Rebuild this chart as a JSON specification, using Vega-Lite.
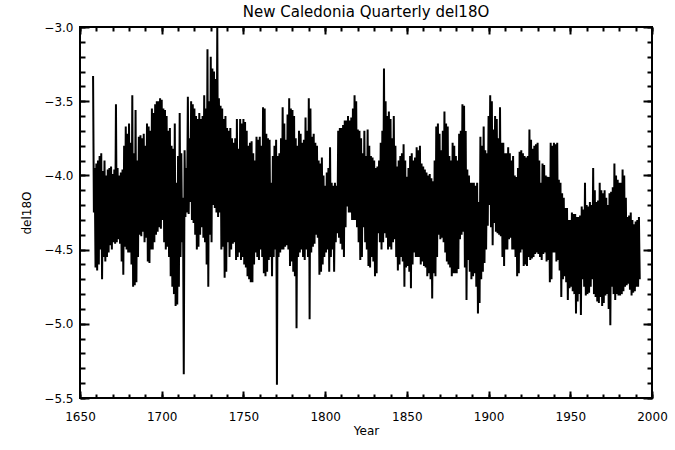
{
"$schema": "https://vega.github.io/schema/vega-lite/v6.json",
"width": 572, "height": 371,
"autosize": {"type": "none"},
"padding": {"left": 80, "top": 27, "right": 23, "bottom": 52},
"background": "white",
"config": {
  "view": {"stroke": "black", "strokeWidth": 2},
  "font": "DejaVu Sans",
  "axis": {"grid": false, "domain": false, "labelFont": "DejaVu Sans", "labelFontSize": 12, "labelColor": "black", "tickColor": "black", "tickWidth": 2, "titleFont": "DejaVu Sans", "titleFontSize": 12, "titleFontWeight": "normal", "titleColor": "black"}
},
"title": {"text": "New Caledonia Quarterly del18O", "fontSize": 15, "fontWeight": "normal", "font": "DejaVu Sans", "color": "black", "anchor": "middle", "offset": 1},
"data": {"values": [
{"t":1658,"v":-3.33},{"t":1658.5,"v":-4.25},{"t":1659,"v":-3.95},{"t":1659.5,"v":-4.62},{"t":1660,"v":-3.92},{"t":1660.5,"v":-4.64},{"t":1661,"v":-3.90},{"t":1661.5,"v":-4.60},{"t":1662,"v":-3.87},{"t":1662.5,"v":-4.50},{"t":1663,"v":-3.85},{"t":1663.5,"v":-4.70},{"t":1664,"v":-3.97},{"t":1664.5,"v":-4.55},{"t":1665,"v":-3.90},{"t":1665.5,"v":-4.58},{"t":1666,"v":-4.00},{"t":1666.5,"v":-4.55},{"t":1667,"v":-3.96},{"t":1667.5,"v":-4.52},{"t":1668,"v":-3.95},{"t":1668.5,"v":-4.47},{"t":1669,"v":-3.94},{"t":1669.5,"v":-4.50},
{"t":1670,"v":-3.99},{"t":1670.5,"v":-4.45},{"t":1671,"v":-3.96},{"t":1671.5,"v":-4.46},{"t":1672,"v":-3.52},{"t":1672.5,"v":-4.45},{"t":1673,"v":-3.95},{"t":1673.5,"v":-4.43},{"t":1674,"v":-4.00},{"t":1674.5,"v":-4.46},{"t":1675,"v":-3.98},{"t":1675.5,"v":-4.58},{"t":1676,"v":-3.96},{"t":1676.5,"v":-4.67},{"t":1677,"v":-3.80},{"t":1677.5,"v":-4.48},{"t":1678,"v":-3.67},{"t":1678.5,"v":-4.50},{"t":1679,"v":-3.72},{"t":1679.5,"v":-4.52},
{"t":1680,"v":-3.65},{"t":1680.5,"v":-4.52},{"t":1681,"v":-3.78},{"t":1681.5,"v":-4.60},{"t":1682,"v":-3.46},{"t":1682.5,"v":-4.75},{"t":1683,"v":-3.85},{"t":1683.5,"v":-4.74},{"t":1684,"v":-3.56},{"t":1684.5,"v":-4.72},{"t":1685,"v":-3.90},{"t":1685.5,"v":-4.55},{"t":1686,"v":-3.74},{"t":1686.5,"v":-4.40},{"t":1687,"v":-3.73},{"t":1687.5,"v":-4.41},{"t":1688,"v":-3.75},{"t":1688.5,"v":-4.38},{"t":1689,"v":-3.72},{"t":1689.5,"v":-4.45},
{"t":1690,"v":-3.80},{"t":1690.5,"v":-4.42},{"t":1691,"v":-3.65},{"t":1691.5,"v":-4.58},{"t":1692,"v":-3.67},{"t":1692.5,"v":-4.59},{"t":1693,"v":-3.70},{"t":1693.5,"v":-4.50},{"t":1694,"v":-3.55},{"t":1694.5,"v":-4.50},{"t":1695,"v":-3.58},{"t":1695.5,"v":-4.45},{"t":1696,"v":-3.52},{"t":1696.5,"v":-4.40},{"t":1697,"v":-3.50},{"t":1697.5,"v":-4.38},{"t":1698,"v":-3.50},{"t":1698.5,"v":-4.35},{"t":1699,"v":-3.48},{"t":1699.5,"v":-4.36},
{"t":1700,"v":-3.49},{"t":1700.5,"v":-4.30},{"t":1701,"v":-3.55},{"t":1701.5,"v":-4.45},{"t":1702,"v":-3.56},{"t":1702.5,"v":-4.50},{"t":1703,"v":-3.60},{"t":1703.5,"v":-4.48},{"t":1704,"v":-3.70},{"t":1704.5,"v":-4.55},{"t":1705,"v":-3.68},{"t":1705.5,"v":-4.68},{"t":1706,"v":-3.80},{"t":1706.5,"v":-4.75},{"t":1707,"v":-3.82},{"t":1707.5,"v":-4.80},{"t":1708,"v":-3.65},{"t":1708.5,"v":-4.88},{"t":1709,"v":-4.05},{"t":1709.5,"v":-4.87},
{"t":1710,"v":-3.87},{"t":1710.5,"v":-4.75},{"t":1711,"v":-3.58},{"t":1711.5,"v":-4.55},{"t":1712,"v":-3.85},{"t":1712.5,"v":-4.45},{"t":1713,"v":-4.15},{"t":1713.5,"v":-5.34},{"t":1714,"v":-3.83},{"t":1714.5,"v":-4.28},{"t":1715,"v":-3.95},{"t":1715.5,"v":-4.25},{"t":1716,"v":-3.47},{"t":1716.5,"v":-4.26},{"t":1717,"v":-3.75},{"t":1717.5,"v":-4.18},{"t":1718,"v":-3.50},{"t":1718.5,"v":-4.30},{"t":1719,"v":-3.52},{"t":1719.5,"v":-4.32},
{"t":1720,"v":-3.55},{"t":1720.5,"v":-4.40},{"t":1721,"v":-3.60},{"t":1721.5,"v":-4.50},{"t":1722,"v":-3.62},{"t":1722.5,"v":-4.48},{"t":1723,"v":-3.58},{"t":1723.5,"v":-4.40},{"t":1724,"v":-3.62},{"t":1724.5,"v":-4.35},{"t":1725,"v":-3.60},{"t":1725.5,"v":-4.42},{"t":1726,"v":-3.46},{"t":1726.5,"v":-4.45},{"t":1727,"v":-3.55},{"t":1727.5,"v":-4.60},{"t":1728,"v":-3.15},{"t":1728.5,"v":-4.75},{"t":1729,"v":-3.50},{"t":1729.5,"v":-4.40},
{"t":1730,"v":-3.20},{"t":1730.5,"v":-4.45},{"t":1731,"v":-3.28},{"t":1731.5,"v":-4.20},{"t":1732,"v":-3.30},{"t":1732.5,"v":-4.22},{"t":1733,"v":-3.35},{"t":1733.5,"v":-4.25},{"t":1734,"v":-3.00},{"t":1734.5,"v":-4.28},{"t":1735,"v":-3.48},{"t":1735.5,"v":-4.25},{"t":1736,"v":-3.53},{"t":1736.5,"v":-4.50},{"t":1737,"v":-3.55},{"t":1737.5,"v":-4.48},{"t":1738,"v":-3.62},{"t":1738.5,"v":-4.69},{"t":1739,"v":-3.60},{"t":1739.5,"v":-4.65},
{"t":1740,"v":-3.68},{"t":1740.5,"v":-4.45},{"t":1741,"v":-3.70},{"t":1741.5,"v":-4.55},{"t":1742,"v":-3.68},{"t":1742.5,"v":-4.50},{"t":1743,"v":-3.75},{"t":1743.5,"v":-4.46},{"t":1744,"v":-3.78},{"t":1744.5,"v":-4.45},{"t":1745,"v":-3.75},{"t":1745.5,"v":-4.57},{"t":1746,"v":-3.62},{"t":1746.5,"v":-4.55},{"t":1747,"v":-3.82},{"t":1747.5,"v":-4.52},{"t":1748,"v":-3.62},{"t":1748.5,"v":-4.57},{"t":1749,"v":-3.65},{"t":1749.5,"v":-4.55},
{"t":1750,"v":-3.62},{"t":1750.5,"v":-4.60},{"t":1751,"v":-3.64},{"t":1751.5,"v":-4.62},{"t":1752,"v":-3.70},{"t":1752.5,"v":-4.68},{"t":1753,"v":-3.80},{"t":1753.5,"v":-4.70},{"t":1754,"v":-3.78},{"t":1754.5,"v":-4.72},{"t":1755,"v":-3.77},{"t":1755.5,"v":-4.72},{"t":1756,"v":-3.85},{"t":1756.5,"v":-4.60},{"t":1757,"v":-3.90},{"t":1757.5,"v":-4.52},{"t":1758,"v":-3.74},{"t":1758.5,"v":-4.55},{"t":1759,"v":-3.76},{"t":1759.5,"v":-4.57},
{"t":1760,"v":-3.74},{"t":1760.5,"v":-4.50},{"t":1761,"v":-3.80},{"t":1761.5,"v":-4.55},{"t":1762,"v":-3.54},{"t":1762.5,"v":-4.66},{"t":1763,"v":-3.55},{"t":1763.5,"v":-4.68},{"t":1764,"v":-3.72},{"t":1764.5,"v":-4.65},{"t":1765,"v":-3.75},{"t":1765.5,"v":-4.57},{"t":1766,"v":-3.76},{"t":1766.5,"v":-4.55},{"t":1767,"v":-4.05},{"t":1767.5,"v":-4.68},{"t":1768,"v":-3.87},{"t":1768.5,"v":-4.55},{"t":1769,"v":-3.80},{"t":1769.5,"v":-4.50},
{"t":1770,"v":-3.76},{"t":1770.5,"v":-5.41},{"t":1771,"v":-3.87},{"t":1771.5,"v":-4.55},{"t":1772,"v":-3.85},{"t":1772.5,"v":-4.52},{"t":1773,"v":-3.75},{"t":1773.5,"v":-4.50},{"t":1774,"v":-3.54},{"t":1774.5,"v":-4.50},{"t":1775,"v":-3.65},{"t":1775.5,"v":-4.48},{"t":1776,"v":-3.76},{"t":1776.5,"v":-4.47},{"t":1777,"v":-3.59},{"t":1777.5,"v":-4.50},{"t":1778,"v":-3.48},{"t":1778.5,"v":-4.61},{"t":1779,"v":-3.55},{"t":1779.5,"v":-4.58},
{"t":1780,"v":-3.56},{"t":1780.5,"v":-4.65},{"t":1781,"v":-3.60},{"t":1781.5,"v":-4.68},{"t":1782,"v":-3.75},{"t":1782.5,"v":-5.03},{"t":1783,"v":-3.80},{"t":1783.5,"v":-4.55},{"t":1784,"v":-3.70},{"t":1784.5,"v":-4.52},{"t":1785,"v":-3.72},{"t":1785.5,"v":-4.50},{"t":1786,"v":-3.78},{"t":1786.5,"v":-4.55},{"t":1787,"v":-3.76},{"t":1787.5,"v":-4.57},{"t":1788,"v":-3.61},{"t":1788.5,"v":-4.50},{"t":1789,"v":-3.70},{"t":1789.5,"v":-4.55},
{"t":1790,"v":-3.48},{"t":1790.5,"v":-4.97},{"t":1791,"v":-3.55},{"t":1791.5,"v":-4.52},{"t":1792,"v":-3.74},{"t":1792.5,"v":-4.48},{"t":1793,"v":-3.72},{"t":1793.5,"v":-4.46},{"t":1794,"v":-3.78},{"t":1794.5,"v":-4.40},{"t":1795,"v":-3.80},{"t":1795.5,"v":-4.42},{"t":1796,"v":-3.90},{"t":1796.5,"v":-4.67},{"t":1797,"v":-3.92},{"t":1797.5,"v":-4.65},{"t":1798,"v":-3.88},{"t":1798.5,"v":-4.60},{"t":1799,"v":-4.00},{"t":1799.5,"v":-4.55},
{"t":1800,"v":-4.07},{"t":1800.5,"v":-4.52},{"t":1801,"v":-3.98},{"t":1801.5,"v":-4.50},{"t":1802,"v":-3.95},{"t":1802.5,"v":-4.65},{"t":1803,"v":-3.81},{"t":1803.5,"v":-4.55},{"t":1804,"v":-4.05},{"t":1804.5,"v":-4.50},{"t":1805,"v":-4.07},{"t":1805.5,"v":-4.65},{"t":1806,"v":-4.05},{"t":1806.5,"v":-4.45},{"t":1807,"v":-4.07},{"t":1807.5,"v":-4.39},{"t":1808,"v":-3.70},{"t":1808.5,"v":-4.42},{"t":1809,"v":-3.68},{"t":1809.5,"v":-4.46},
{"t":1810,"v":-3.68},{"t":1810.5,"v":-4.50},{"t":1811,"v":-3.66},{"t":1811.5,"v":-4.55},{"t":1812,"v":-3.63},{"t":1812.5,"v":-4.35},{"t":1813,"v":-3.63},{"t":1813.5,"v":-4.21},{"t":1814,"v":-3.60},{"t":1814.5,"v":-4.25},{"t":1815,"v":-3.63},{"t":1815.5,"v":-4.25},{"t":1816,"v":-3.61},{"t":1816.5,"v":-4.30},{"t":1817,"v":-3.55},{"t":1817.5,"v":-4.30},{"t":1818,"v":-3.46},{"t":1818.5,"v":-4.30},{"t":1819,"v":-3.50},{"t":1819.5,"v":-4.35},
{"t":1820,"v":-3.69},{"t":1820.5,"v":-4.45},{"t":1821,"v":-3.70},{"t":1821.5,"v":-4.57},{"t":1822,"v":-3.75},{"t":1822.5,"v":-4.55},{"t":1823,"v":-3.85},{"t":1823.5,"v":-4.35},{"t":1824,"v":-3.70},{"t":1824.5,"v":-4.45},{"t":1825,"v":-3.87},{"t":1825.5,"v":-4.50},{"t":1826,"v":-3.69},{"t":1826.5,"v":-4.61},{"t":1827,"v":-3.80},{"t":1827.5,"v":-4.62},{"t":1828,"v":-3.87},{"t":1828.5,"v":-4.55},{"t":1829,"v":-3.88},{"t":1829.5,"v":-4.58},
{"t":1830,"v":-3.90},{"t":1830.5,"v":-4.68},{"t":1831,"v":-3.95},{"t":1831.5,"v":-4.66},{"t":1832,"v":-3.94},{"t":1832.5,"v":-4.39},{"t":1833,"v":-3.90},{"t":1833.5,"v":-4.45},{"t":1834,"v":-3.78},{"t":1834.5,"v":-4.50},{"t":1835,"v":-3.70},{"t":1835.5,"v":-4.45},{"t":1836,"v":-3.28},{"t":1836.5,"v":-4.39},{"t":1837,"v":-3.50},{"t":1837.5,"v":-4.42},{"t":1838,"v":-3.60},{"t":1838.5,"v":-4.50},{"t":1839,"v":-3.57},{"t":1839.5,"v":-4.48},
{"t":1840,"v":-3.62},{"t":1840.5,"v":-4.50},{"t":1841,"v":-3.75},{"t":1841.5,"v":-4.45},{"t":1842,"v":-3.60},{"t":1842.5,"v":-4.43},{"t":1843,"v":-3.80},{"t":1843.5,"v":-4.55},{"t":1844,"v":-3.94},{"t":1844.5,"v":-4.64},{"t":1845,"v":-3.90},{"t":1845.5,"v":-4.60},{"t":1846,"v":-3.87},{"t":1846.5,"v":-4.55},{"t":1847,"v":-3.85},{"t":1847.5,"v":-4.58},{"t":1848,"v":-3.79},{"t":1848.5,"v":-4.75},{"t":1849,"v":-3.90},{"t":1849.5,"v":-4.62},
{"t":1850,"v":-4.01},{"t":1850.5,"v":-4.61},{"t":1851,"v":-3.95},{"t":1851.5,"v":-4.65},{"t":1852,"v":-3.87},{"t":1852.5,"v":-4.76},{"t":1853,"v":-3.85},{"t":1853.5,"v":-4.60},{"t":1854,"v":-3.90},{"t":1854.5,"v":-4.52},{"t":1855,"v":-3.88},{"t":1855.5,"v":-4.55},{"t":1856,"v":-3.81},{"t":1856.5,"v":-4.55},{"t":1857,"v":-3.83},{"t":1857.5,"v":-4.55},{"t":1858,"v":-3.80},{"t":1858.5,"v":-4.60},{"t":1859,"v":-3.92},{"t":1859.5,"v":-4.58},
{"t":1860,"v":-3.94},{"t":1860.5,"v":-4.61},{"t":1861,"v":-3.96},{"t":1861.5,"v":-4.62},{"t":1862,"v":-3.98},{"t":1862.5,"v":-4.68},{"t":1863,"v":-4.00},{"t":1863.5,"v":-4.66},{"t":1864,"v":-3.99},{"t":1864.5,"v":-4.70},{"t":1865,"v":-4.02},{"t":1865.5,"v":-4.83},{"t":1866,"v":-4.04},{"t":1866.5,"v":-4.66},{"t":1867,"v":-3.90},{"t":1867.5,"v":-4.68},{"t":1868,"v":-3.67},{"t":1868.5,"v":-4.55},{"t":1869,"v":-3.65},{"t":1869.5,"v":-4.40},
{"t":1870,"v":-3.72},{"t":1870.5,"v":-4.43},{"t":1871,"v":-3.83},{"t":1871.5,"v":-4.42},{"t":1872,"v":-3.70},{"t":1872.5,"v":-4.45},{"t":1873,"v":-3.57},{"t":1873.5,"v":-4.52},{"t":1874,"v":-3.65},{"t":1874.5,"v":-4.58},{"t":1875,"v":-3.67},{"t":1875.5,"v":-4.60},{"t":1876,"v":-3.87},{"t":1876.5,"v":-4.62},{"t":1877,"v":-3.90},{"t":1877.5,"v":-4.68},{"t":1878,"v":-3.78},{"t":1878.5,"v":-4.66},{"t":1879,"v":-3.80},{"t":1879.5,"v":-4.66},
{"t":1880,"v":-3.87},{"t":1880.5,"v":-4.66},{"t":1881,"v":-3.90},{"t":1881.5,"v":-4.63},{"t":1882,"v":-3.72},{"t":1882.5,"v":-4.43},{"t":1883,"v":-3.70},{"t":1883.5,"v":-4.40},{"t":1884,"v":-3.52},{"t":1884.5,"v":-4.38},{"t":1885,"v":-3.53},{"t":1885.5,"v":-4.62},{"t":1886,"v":-3.70},{"t":1886.5,"v":-4.84},{"t":1887,"v":-3.96},{"t":1887.5,"v":-4.57},{"t":1888,"v":-4.00},{"t":1888.5,"v":-4.65},{"t":1889,"v":-4.05},{"t":1889.5,"v":-4.70},
{"t":1890,"v":-4.05},{"t":1890.5,"v":-4.68},{"t":1891,"v":-4.05},{"t":1891.5,"v":-4.66},{"t":1892,"v":-4.07},{"t":1892.5,"v":-4.75},{"t":1893,"v":-4.05},{"t":1893.5,"v":-4.93},{"t":1894,"v":-4.18},{"t":1894.5,"v":-4.86},{"t":1895,"v":-3.74},{"t":1895.5,"v":-4.70},{"t":1896,"v":-3.80},{"t":1896.5,"v":-4.65},{"t":1897,"v":-3.67},{"t":1897.5,"v":-4.59},{"t":1898,"v":-3.83},{"t":1898.5,"v":-4.50},{"t":1899,"v":-3.85},{"t":1899.5,"v":-4.34},
{"t":1900,"v":-3.60},{"t":1900.5,"v":-4.20},{"t":1901,"v":-3.46},{"t":1901.5,"v":-4.35},{"t":1902,"v":-3.50},{"t":1902.5,"v":-4.47},{"t":1903,"v":-3.69},{"t":1903.5,"v":-4.32},{"t":1904,"v":-3.60},{"t":1904.5,"v":-4.38},{"t":1905,"v":-3.62},{"t":1905.5,"v":-4.39},{"t":1906,"v":-3.75},{"t":1906.5,"v":-4.40},{"t":1907,"v":-3.54},{"t":1907.5,"v":-4.41},{"t":1908,"v":-3.78},{"t":1908.5,"v":-4.55},{"t":1909,"v":-3.78},{"t":1909.5,"v":-4.61},
{"t":1910,"v":-3.85},{"t":1910.5,"v":-4.50},{"t":1911,"v":-3.85},{"t":1911.5,"v":-4.50},{"t":1912,"v":-3.81},{"t":1912.5,"v":-4.43},{"t":1913,"v":-3.85},{"t":1913.5,"v":-4.42},{"t":1914,"v":-3.90},{"t":1914.5,"v":-4.50},{"t":1915,"v":-3.87},{"t":1915.5,"v":-4.50},{"t":1916,"v":-4.00},{"t":1916.5,"v":-4.55},{"t":1917,"v":-4.01},{"t":1917.5,"v":-4.68},{"t":1918,"v":-3.95},{"t":1918.5,"v":-4.66},{"t":1919,"v":-3.84},{"t":1919.5,"v":-4.52},
{"t":1920,"v":-3.83},{"t":1920.5,"v":-4.50},{"t":1921,"v":-3.85},{"t":1921.5,"v":-4.61},{"t":1922,"v":-3.87},{"t":1922.5,"v":-4.60},{"t":1923,"v":-3.88},{"t":1923.5,"v":-4.61},{"t":1924,"v":-3.87},{"t":1924.5,"v":-4.55},{"t":1925,"v":-3.69},{"t":1925.5,"v":-4.57},{"t":1926,"v":-3.76},{"t":1926.5,"v":-4.56},{"t":1927,"v":-3.82},{"t":1927.5,"v":-4.55},{"t":1928,"v":-3.80},{"t":1928.5,"v":-4.53},{"t":1929,"v":-3.79},{"t":1929.5,"v":-4.52},
{"t":1930,"v":-3.78},{"t":1930.5,"v":-4.53},{"t":1931,"v":-3.90},{"t":1931.5,"v":-4.55},{"t":1932,"v":-4.05},{"t":1932.5,"v":-4.57},{"t":1933,"v":-3.92},{"t":1933.5,"v":-4.53},{"t":1934,"v":-3.93},{"t":1934.5,"v":-4.52},{"t":1935,"v":-4.00},{"t":1935.5,"v":-4.58},{"t":1936,"v":-4.01},{"t":1936.5,"v":-4.57},{"t":1937,"v":-4.01},{"t":1937.5,"v":-4.72},{"t":1938,"v":-3.78},{"t":1938.5,"v":-4.70},{"t":1939,"v":-3.80},{"t":1939.5,"v":-4.52},
{"t":1940,"v":-3.78},{"t":1940.5,"v":-4.52},{"t":1941,"v":-3.79},{"t":1941.5,"v":-4.58},{"t":1942,"v":-3.78},{"t":1942.5,"v":-4.57},{"t":1943,"v":-4.03},{"t":1943.5,"v":-4.64},{"t":1944,"v":-4.05},{"t":1944.5,"v":-4.82},{"t":1945,"v":-4.12},{"t":1945.5,"v":-4.70},{"t":1946,"v":-4.15},{"t":1946.5,"v":-4.68},{"t":1947,"v":-4.22},{"t":1947.5,"v":-4.72},{"t":1948,"v":-4.22},{"t":1948.5,"v":-4.84},{"t":1949,"v":-4.30},{"t":1949.5,"v":-4.76},
{"t":1950,"v":-4.30},{"t":1950.5,"v":-4.75},{"t":1951,"v":-4.25},{"t":1951.5,"v":-4.78},{"t":1952,"v":-4.26},{"t":1952.5,"v":-4.80},{"t":1953,"v":-4.26},{"t":1953.5,"v":-4.93},{"t":1954,"v":-4.28},{"t":1954.5,"v":-4.85},{"t":1955,"v":-4.28},{"t":1955.5,"v":-4.80},{"t":1956,"v":-4.27},{"t":1956.5,"v":-4.94},{"t":1957,"v":-4.21},{"t":1957.5,"v":-4.70},{"t":1958,"v":-4.23},{"t":1958.5,"v":-4.75},{"t":1959,"v":-4.05},{"t":1959.5,"v":-4.81},
{"t":1960,"v":-4.20},{"t":1960.5,"v":-4.80},{"t":1961,"v":-4.21},{"t":1961.5,"v":-4.79},{"t":1962,"v":-4.18},{"t":1962.5,"v":-4.75},{"t":1963,"v":-4.20},{"t":1963.5,"v":-4.70},{"t":1964,"v":-3.95},{"t":1964.5,"v":-4.80},{"t":1965,"v":-4.10},{"t":1965.5,"v":-4.82},{"t":1966,"v":-4.18},{"t":1966.5,"v":-4.85},{"t":1967,"v":-4.17},{"t":1967.5,"v":-4.86},{"t":1968,"v":-4.05},{"t":1968.5,"v":-4.82},{"t":1969,"v":-4.10},{"t":1969.5,"v":-4.88},
{"t":1970,"v":-4.12},{"t":1970.5,"v":-4.86},{"t":1971,"v":-4.10},{"t":1971.5,"v":-4.81},{"t":1972,"v":-4.15},{"t":1972.5,"v":-4.80},{"t":1973,"v":-4.20},{"t":1973.5,"v":-4.90},{"t":1974,"v":-4.12},{"t":1974.5,"v":-5.01},{"t":1975,"v":-4.11},{"t":1975.5,"v":-4.75},{"t":1976,"v":-4.08},{"t":1976.5,"v":-4.80},{"t":1977,"v":-3.92},{"t":1977.5,"v":-4.84},{"t":1978,"v":-4.00},{"t":1978.5,"v":-4.80},{"t":1979,"v":-4.03},{"t":1979.5,"v":-4.81},
{"t":1980,"v":-4.05},{"t":1980.5,"v":-4.81},{"t":1981,"v":-4.05},{"t":1981.5,"v":-4.80},{"t":1982,"v":-3.96},{"t":1982.5,"v":-4.78},{"t":1983,"v":-4.00},{"t":1983.5,"v":-4.75},{"t":1984,"v":-4.15},{"t":1984.5,"v":-4.74},{"t":1985,"v":-4.28},{"t":1985.5,"v":-4.73},{"t":1986,"v":-4.27},{"t":1986.5,"v":-4.77},{"t":1987,"v":-4.25},{"t":1987.5,"v":-4.81},{"t":1988,"v":-4.30},{"t":1988.5,"v":-4.79},{"t":1989,"v":-4.33},{"t":1989.5,"v":-4.78},
{"t":1990,"v":-4.31},{"t":1990.5,"v":-4.75},{"t":1991,"v":-4.30},{"t":1991.5,"v":-4.75},{"t":1992,"v":-4.28},{"t":1992.5,"v":-4.70}
]},
"resolve": {"axis": {"x": "independent", "y": "independent"}},
"layer": [
  {
    "mark": {"type": "line", "color": "black", "strokeWidth": 2, "clip": true},
    "encoding": {
      "x": {"field": "t", "type": "quantitative", "scale": {"domain": [1650, 2000], "nice": false, "zero": false},
            "axis": {"orient": "bottom", "values": [1650, 1700, 1750, 1800, 1850, 1900, 1950, 2000], "tickSize": -7, "labelPadding": 20, "format": "d", "title": "Year", "titlePadding": 3, "labelFlush": false}},
      "y": {"field": "v", "type": "quantitative", "scale": {"domain": [-5.5, -3.0], "nice": false, "zero": false},
            "axis": {"orient": "left", "values": [-5.5, -5.0, -4.5, -4.0, -3.5, -3.0], "tickSize": -9, "labelPadding": 16, "format": ".1f", "title": "del18O", "titlePadding": 10, "labelFlush": false}}
    }
  },
  {
    "mark": {"type": "line", "opacity": 0},
    "encoding": {
      "x": {"field": "t", "type": "quantitative", "axis": {"orient": "bottom", "values": [1650,1660,1670,1680,1690,1700,1710,1720,1730,1740,1750,1760,1770,1780,1790,1800,1810,1820,1830,1840,1850,1860,1870,1880,1890,1900,1910,1920,1930,1940,1950,1960,1970,1980,1990,2000], "tickSize": -4, "labels": false, "title": null}},
      "y": {"field": "v", "type": "quantitative", "axis": {"orient": "left", "values": [-5.5,-5.4,-5.3,-5.2,-5.1,-5.0,-4.9,-4.8,-4.7,-4.6,-4.5,-4.4,-4.3,-4.2,-4.1,-4.0,-3.9,-3.8,-3.7,-3.6,-3.5,-3.4,-3.3,-3.2,-3.1,-3.0], "tickSize": -5, "labels": false, "title": null}}
    }
  },
  {
    "mark": {"type": "line", "opacity": 0},
    "encoding": {
      "x": {"field": "t", "type": "quantitative", "axis": {"orient": "top", "values": [1650, 1700, 1750, 1800, 1850, 1900, 1950, 2000], "tickSize": -7, "labels": false, "title": null}},
      "y": {"field": "v", "type": "quantitative", "axis": {"orient": "right", "values": [-5.5, -5.0, -4.5, -4.0, -3.5, -3.0], "tickSize": -9, "labels": false, "title": null}}
    }
  },
  {
    "mark": {"type": "line", "opacity": 0},
    "encoding": {
      "x": {"field": "t", "type": "quantitative", "axis": {"orient": "top", "values": [1650,1660,1670,1680,1690,1700,1710,1720,1730,1740,1750,1760,1770,1780,1790,1800,1810,1820,1830,1840,1850,1860,1870,1880,1890,1900,1910,1920,1930,1940,1950,1960,1970,1980,1990,2000], "tickSize": -4, "labels": false, "title": null}},
      "y": {"field": "v", "type": "quantitative", "axis": {"orient": "right", "values": [-5.5,-5.4,-5.3,-5.2,-5.1,-5.0,-4.9,-4.8,-4.7,-4.6,-4.5,-4.4,-4.3,-4.2,-4.1,-4.0,-3.9,-3.8,-3.7,-3.6,-3.5,-3.4,-3.3,-3.2,-3.1,-3.0], "tickSize": -5, "labels": false, "title": null}}
    }
  }
]
}
